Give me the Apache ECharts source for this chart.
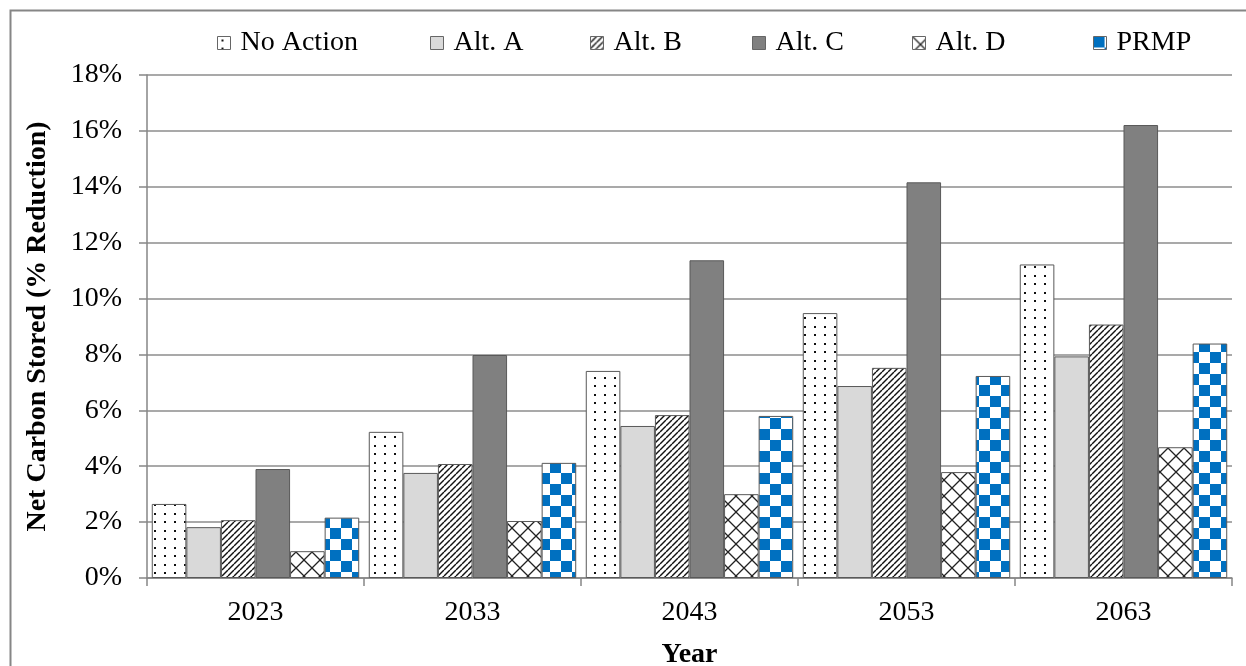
<!DOCTYPE html>
<html>
<head>
<meta charset="utf-8">
<script src="https://cdn.jsdelivr.net/npm/echarts@6/dist/echarts.min.js"></script>
<style>
  html, body { margin: 0; padding: 0; background: #fff; }
  #chart { width: 1246px; height: 666px; }
</style>
</head>
<body>
<div id="chart"></div>
<script>
// Net carbon stored (% reduction) by year and alternative
const years = ['2023', '2033', '2043', '2053', '2063'];
const seriesNames = ['No Action', 'Alt. A', 'Alt. B', 'Alt. C', 'Alt. D', 'PRMP'];
const noAction = [2.65, 5.23, 7.41, 9.48, 11.22];
const altA = [1.82, 3.76, 5.44, 6.87, 7.93];
const altB = [2.07, 4.08, 5.83, 7.52, 9.07];
const altC = [3.90, 7.98, 11.37, 14.16, 16.21];
const altD = [0.96, 2.04, 3.00, 3.79, 4.68];
const prmp = [2.16, 4.12, 5.80, 7.23, 8.39];
const yTicks = [0, 2, 4, 6, 8, 10, 12, 14, 16, 18];

const FONT = '"Liberation Serif", "Times New Roman", serif';
const FS = 28;

// --- fill patterns drawn on small canvases ---
function tile(w, h, draw) {
  const c = document.createElement('canvas');
  c.width = w; c.height = h;
  const ctx = c.getContext('2d');
  ctx.fillStyle = '#fff';
  ctx.fillRect(0, 0, w, h);
  draw(ctx, w, h);
  return { image: c, repeat: 'repeat' };
}

const dotsFill = tile(10, 17, (ctx) => {
  ctx.fillStyle = '#111';
  ctx.fillRect(4, 3, 2, 2);
  ctx.fillRect(4, 11, 2, 2);
});

const hatchFill = tile(6, 6, (ctx, w, h) => {
  ctx.strokeStyle = '#111';
  ctx.lineWidth = 1.4;
  for (let k = -1; k <= 1; k++) {
    ctx.beginPath();
    ctx.moveTo(k * w, h);
    ctx.lineTo(k * w + w, 0);
    ctx.stroke();
  }
});

const crossFill = tile(16, 16, (ctx, w, h) => {
  ctx.strokeStyle = '#222';
  ctx.lineWidth = 1.3;
  ctx.beginPath();
  ctx.moveTo(0, 0); ctx.lineTo(w, h);
  ctx.moveTo(w, 0); ctx.lineTo(0, h);
  ctx.stroke();
});

const checkFill = tile(22, 22, (ctx) => {
  ctx.fillStyle = '#0070c0';
  ctx.fillRect(0, 0, 11, 11);
  ctx.fillRect(11, 11, 11, 11);
});

const fills = [dotsFill, '#d9d9d9', hatchFill, '#808080', crossFill, checkFill];
const dataSets = [noAction, altA, altB, altC, altD, prmp];

// legend entries placed individually along the top
const legendLeft = [212, 425, 585, 747, 907, 1088];
const legends = seriesNames.map((n, i) => ({
  data: [n],
  left: legendLeft[i],
  top: 24,
  icon: 'rect',
  itemWidth: 13,
  itemHeight: 13,
  itemStyle: { borderColor: '#666', borderWidth: 1 },
  textStyle: { fontFamily: FONT, fontSize: FS, color: '#000', padding: [0, 0, 0, 5] },
  selectedMode: false
}));

const chart = echarts.init(document.getElementById('chart'), null, { renderer: 'canvas' });

chart.setOption({
  animation: false,
  backgroundColor: '#fff',
  graphic: [{
    type: 'rect',
    left: 8, top: 8,
    shape: { width: 1300, height: 700 },
    style: { fill: 'none', stroke: '#868686', lineWidth: 2 },
    z: -10
  }],
  legend: legends,
  grid: { left: 147, right: 14, top: 75, bottom: 88, containLabel: false, outerBoundsMode: 'none' },
  xAxis: {
    type: 'category',
    data: years,
    name: 'Year',
    nameLocation: 'middle',
    nameGap: 63,
    nameTextStyle: { fontFamily: FONT, fontSize: FS, fontWeight: 'bold', color: '#000' },
    axisLine: { lineStyle: { color: '#868686', width: 1.5 } },
    axisTick: { show: true, length: 8, lineStyle: { color: '#868686', width: 1.5 } },
    axisLabel: { fontFamily: FONT, fontSize: FS, color: '#000', margin: 21 }
  },
  yAxis: {
    type: 'value',
    min: yTicks[0],
    max: yTicks[yTicks.length - 1],
    interval: 2,
    name: 'Net Carbon Stored (% Reduction)',
    nameLocation: 'middle',
    nameGap: 95,
    nameTextStyle: { fontFamily: FONT, fontSize: FS, fontWeight: 'bold', color: '#000' },
    axisLine: { show: true, lineStyle: { color: '#868686', width: 1.5 } },
    axisTick: { show: true, length: 8, lineStyle: { color: '#868686', width: 1.5 } },
    axisLabel: { fontFamily: FONT, fontSize: FS, color: '#000', margin: 25, formatter: '{value}%' },
    splitLine: { lineStyle: { color: '#8c8c8c', width: 1.5 } }
  },
  series: seriesNames.map((n, i) => ({
    name: n,
    type: 'bar',
    data: dataSets[i],
    barGap: '0%',
    barCategoryGap: '4.4%',
    itemStyle: { color: fills[i], borderColor: '#595959', borderWidth: 1 }
  }))
});
</script>
</body>
</html>
